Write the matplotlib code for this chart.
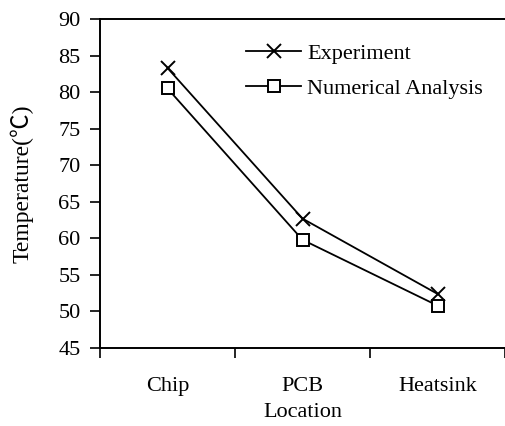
import numpy as np
import matplotlib.pyplot as plt

plt.rcParams['font.family'] = ['Liberation Serif', 'Noto Sans CJK SC']
plt.rcParams['font.size'] = 16

locations = ["Chip", "PCB", "Heatsink"]
experiment = [83.3, 62.7, 52.4]
numerical = [80.5, 59.8, 50.8]

fig = plt.figure(figsize=(5.05, 4.26), dpi=100)
ax = fig.add_axes([100/505, 1 - 348/426, 405/505, (348 - 19)/426])

x = np.arange(len(locations))
ax.plot(x, experiment, color="black", lw=1.3, marker="x", ms=10, mew=1.4,
        label="Experiment")
ax.plot(x, numerical, color="black", lw=1.3, marker="s", ms=8, mew=1.4,
        mfc="white", label="Numerical Analysis")

ax.set_xlim(-0.5, 2.5)
ax.set_ylim(45, 90)
ax.set_yticks(np.arange(45, 91, 5))
ax.set_xticks(x)
ax.set_xticklabels(locations)
ax.set_xticks([-0.5, 0.5, 1.5, 2.5], minor=True)
ax.tick_params(axis="x", which="major", length=0, pad=21)
ax.tick_params(axis="x", which="minor", length=7, width=1.2, direction="out")
ax.tick_params(axis="y", length=7, width=1.2, direction="out", pad=7)

ax.spines["right"].set_visible(False)
for s in ["left", "top", "bottom"]:
    ax.spines[s].set_linewidth(1.4)

ax.set_xlabel("Location", labelpad=5)
ax.set_ylabel("Temperature(℃)", fontsize=17, labelpad=18)

ax.legend(loc="upper left", bbox_to_anchor=(0.36, 0.925), frameon=False,
          handlelength=2.5, handletextpad=0.25, labelspacing=0.65,
          borderaxespad=0.0, borderpad=0.0)

fig.savefig("out.png", dpi=100)
